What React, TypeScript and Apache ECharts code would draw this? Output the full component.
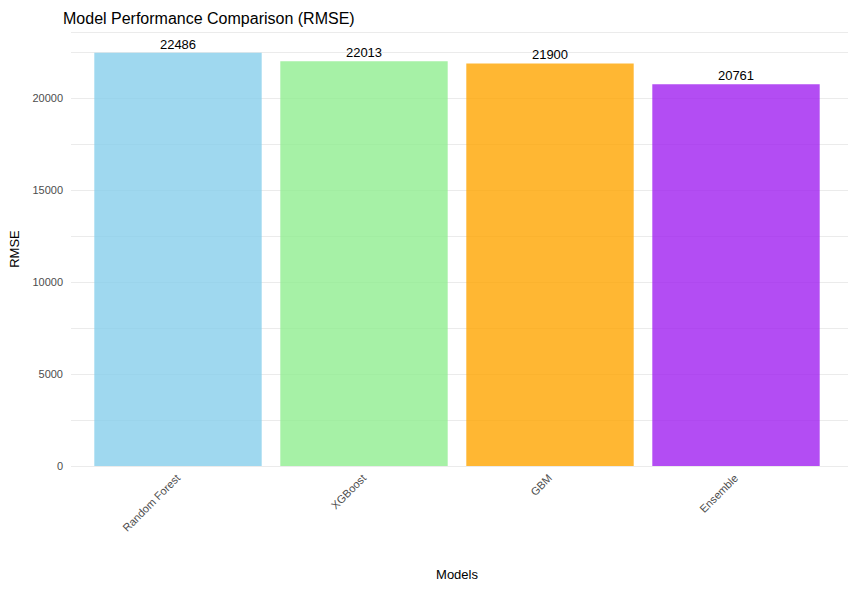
import React, { useEffect, useRef } from "react";
import * as echarts from "echarts";

const categories = ["Random Forest", "XGBoost", "GBM", "Ensemble"];
const rmse = [22486, 22013, 21900, 20761];
const colors = ["rgba(135,206,235,0.8)", "rgba(144,238,144,0.8)", "rgba(255,165,0,0.8)", "rgba(160,32,240,0.8)"];
const yTicks = [0, 5000, 10000, 15000, 20000];

export default function App() {
  const ref = useRef<HTMLDivElement>(null);
  useEffect(() => {
    const chart = echarts.init(ref.current!, null, { renderer: "svg" });
    const yMax = 23610;
    const font = "Liberation Sans, Arial, sans-serif";
    chart.setOption({
      animation: false,
      title: { text: "Model Performance Comparison (RMSE)", left: 58, top: 5, textStyle: { fontSize: 16, fontWeight: "normal", color: "#000", fontFamily: font } },
      grid: [
        { left: 66, right: 16, top: 32, bottom: 123 },
        { left: 85, right: 35, top: 32, bottom: 123 },
      ],
      xAxis: [
        { gridIndex: 0, type: "category", data: categories, show: false },
        {
          gridIndex: 1, type: "category", data: categories,
          axisLine: { show: false }, axisTick: { show: false },
          axisLabel: { rotate: 45, color: "#4d4d4d", fontSize: 11, fontFamily: font, margin: 10 },
          name: "Models", nameLocation: "middle", nameGap: 102,
          nameTextStyle: { fontSize: 13, color: "#000", fontFamily: font },
        },
      ],
      yAxis: [
        {
          gridIndex: 0, type: "value", min: 0, max: yMax, interval: 2500,
          axisLine: { show: false }, axisTick: { show: false },
          axisLabel: { color: "#4d4d4d", fontSize: 11, fontFamily: font, margin: 8,
            formatter: (v: number) => (yTicks.includes(v) ? String(v) : "") },
          splitLine: { lineStyle: { color: "#ebebeb", width: 1 } },
          name: "RMSE", nameLocation: "middle", nameGap: 50,
          nameTextStyle: { fontSize: 13, color: "#000", fontFamily: font },
        },
        { gridIndex: 1, type: "value", min: 0, max: yMax, show: false, splitLine: { show: false } },
      ],
      series: [
        {
          type: "bar", xAxisIndex: 1, yAxisIndex: 1, barWidth: "90%",
          data: rmse.map((v, i) => ({ value: v, itemStyle: { color: colors[i] } })),
          label: { show: true, position: "top", distance: 2, color: "#000", fontSize: 13, fontFamily: font },
        },
      ],
    });
    return () => chart.dispose();
  }, []);
  return <div ref={ref} style={{ width: 864, height: 589, position: "absolute", left: 0, top: 0, background: "#fff" }} />;
}
